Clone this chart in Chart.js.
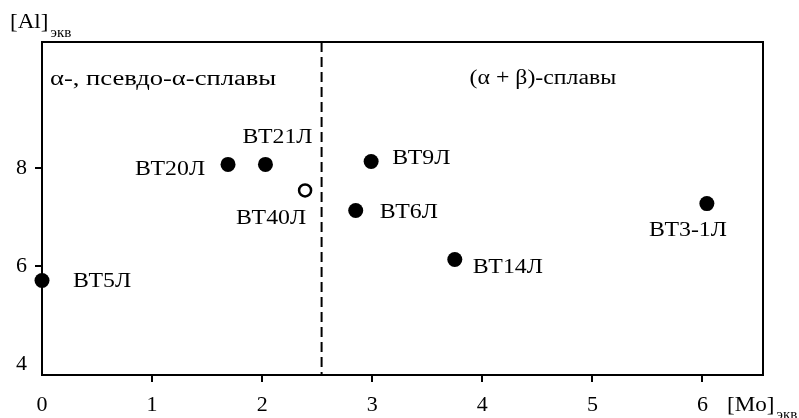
<!DOCTYPE html>
<html>
<head>
<meta charset="utf-8">
<script src="https://cdn.jsdelivr.net/npm/chart.js@4.4.0/dist/chart.umd.min.js"></script>
<style>
html,body{margin:0;padding:0;background:#fff;}
#c{display:block;}
</style>
</head>
<body>
<canvas id="c" width="799" height="418"></canvas>
<script>
// ---- data ----
const alloys = ["ВТ5Л","ВТ20Л","ВТ21Л","ВТ40Л","ВТ9Л","ВТ6Л","ВТ14Л","ВТ3-1Л"];
const moEq   = [0.00, 1.69, 2.03, 2.39, 2.99, 2.85, 3.75, 6.04];
const alEq   = [5.71, 8.08, 8.08, 7.55, 8.14, 7.14, 6.14, 7.28];
const filled = [true, true, true, false, true, true, true, true];
const xTicks = [0,1,2,3,4,5,6];
const yTicks = [4,6,8];
const boundaryMo = 2.54;
const regionLabels = ["α-, псевдо-α-сплавы", "(α + β)-сплавы"];
const xTitle = ["[Mo]", "экв"];
const yTitle = ["[Al]", "экв"];

// label placement relative to each marker (style only)
const labelPlacement = [
  {dx:31, dy:1, align:"left"},
  {dx:-23, dy:5, align:"right"},
  {dx:12, dy:-27, align:"center"},
  {dx:-34, dy:28, align:"center"},
  {dx:21, dy:-3, align:"left"},
  {dx:24, dy:2, align:"left"},
  {dx:18, dy:8, align:"left"},
  {dx:-19, dy:27, align:"center"}
];

const FONT = '"Liberation Serif", "Times New Roman", serif';
const TEXT_STRETCH = 1.19;
const points = moEq.map((x,i)=>({x:x, y:alEq[i]}));

function stretchedText(ctx, text, x, y, align, stretch) {
  const w = ctx.measureText(text).width * stretch;
  let left = x;
  if (align === 'center') left = x - w / 2;
  else if (align === 'right') left = x - w;
  ctx.save();
  ctx.translate(left, y);
  ctx.scale(stretch, 1);
  ctx.textAlign = 'left';
  ctx.fillText(text, 0, 0);
  ctx.restore();
  return w;
}

const decor = {
  id: 'decor',
  afterDatasetsDraw(chart) {
    const ctx = chart.ctx, a = chart.chartArea;
    const xs = chart.scales.x;
    ctx.save();
    // frame
    ctx.strokeStyle = '#000'; ctx.lineWidth = 2;
    ctx.strokeRect(a.left, a.top, a.right - a.left, a.bottom - a.top);
    // dashed boundary
    const bx = xs.getPixelForValue(boundaryMo);
    ctx.setLineDash([10,5]);
    ctx.beginPath(); ctx.moveTo(bx, a.top); ctx.lineTo(bx, a.bottom); ctx.stroke();
    ctx.setLineDash([]);
    // region labels
    ctx.fillStyle = '#000';
    ctx.font = '20px ' + FONT;
    ctx.textBaseline = 'middle';
    stretchedText(ctx, regionLabels[0], a.left + 8, a.top + 38, 'left', 1.33);
    stretchedText(ctx, regionLabels[1], bx + 148, a.top + 37, 'left', TEXT_STRETCH);
    // point labels
    const meta = chart.getDatasetMeta(0);
    meta.data.forEach((el, i) => {
      const p = labelPlacement[i];
      stretchedText(ctx, alloys[i], el.x + p.dx, el.y + p.dy, p.align, TEXT_STRETCH);
    });
    // axis titles
    ctx.font = '22px ' + FONT;
    let w = stretchedText(ctx, yTitle[0], 10, 22, 'left', 1.05);
    ctx.font = '15px ' + FONT;
    stretchedText(ctx, yTitle[1], 12 + w, 33, 'left', 1.0);
    ctx.font = '22px ' + FONT;
    w = stretchedText(ctx, xTitle[0], 727, 405, 'left', 1.05);
    ctx.font = '15px ' + FONT;
    stretchedText(ctx, xTitle[1], 729 + w, 415, 'left', 1.0);
    ctx.restore();
  }
};

new Chart(document.getElementById('c'), {
  type: 'scatter',
  data: {
    datasets: [{
      data: points,
      pointRadius: filled.map(f => f ? 7.5 : 6),
      pointHoverRadius: filled.map(f => f ? 7.5 : 6),
      pointBackgroundColor: filled.map(f => f ? '#000' : '#fff'),
      pointBorderColor: '#000',
      pointBorderWidth: filled.map(f => f ? 0 : 2.5),
      clip: false
    }]
  },
  options: {
    responsive: false,
    animation: false,
    events: [],
    layout: { padding: { left: 0, top: 42, right: 36, bottom: 0 } },
    plugins: { legend: { display: false }, tooltip: { enabled: false } },
    scales: {
      x: {
        type: 'linear', min: 0, max: 6.55,
        afterBuildTicks: s => { s.ticks = xTicks.map(v => ({value: v})); },
        afterFit: s => { s.height = 43; },
        grid: { display: true, drawOnChartArea: false, drawTicks: true, tickLength: 7, lineWidth: 2,
                color: '#000',
                tickColor: c => (c.tick && c.tick.value === 0) ? 'rgba(0,0,0,0)' : '#000' },
        border: { display: true, color: '#000', width: 2 },
        ticks: { color: '#000', font: { family: FONT, size: 22 }, padding: 10, maxRotation: 0 }
      },
      y: {
        type: 'linear', min: 3.78, max: 10.58,
        afterBuildTicks: s => { s.ticks = yTicks.map(v => ({value: v})); },
        afterFit: s => { s.width = 42; },
        grid: { display: true, drawOnChartArea: false, drawTicks: true, tickLength: 7, lineWidth: 2,
                color: '#000',
                tickColor: c => (c.tick && c.tick.value === 4) ? 'rgba(0,0,0,0)' : '#000' },
        border: { display: true, color: '#000', width: 2 },
        ticks: { color: '#000', font: { family: FONT, size: 22 }, padding: 8 }
      }
    }
  },
  plugins: [decor]
});
</script>
</body>
</html>
